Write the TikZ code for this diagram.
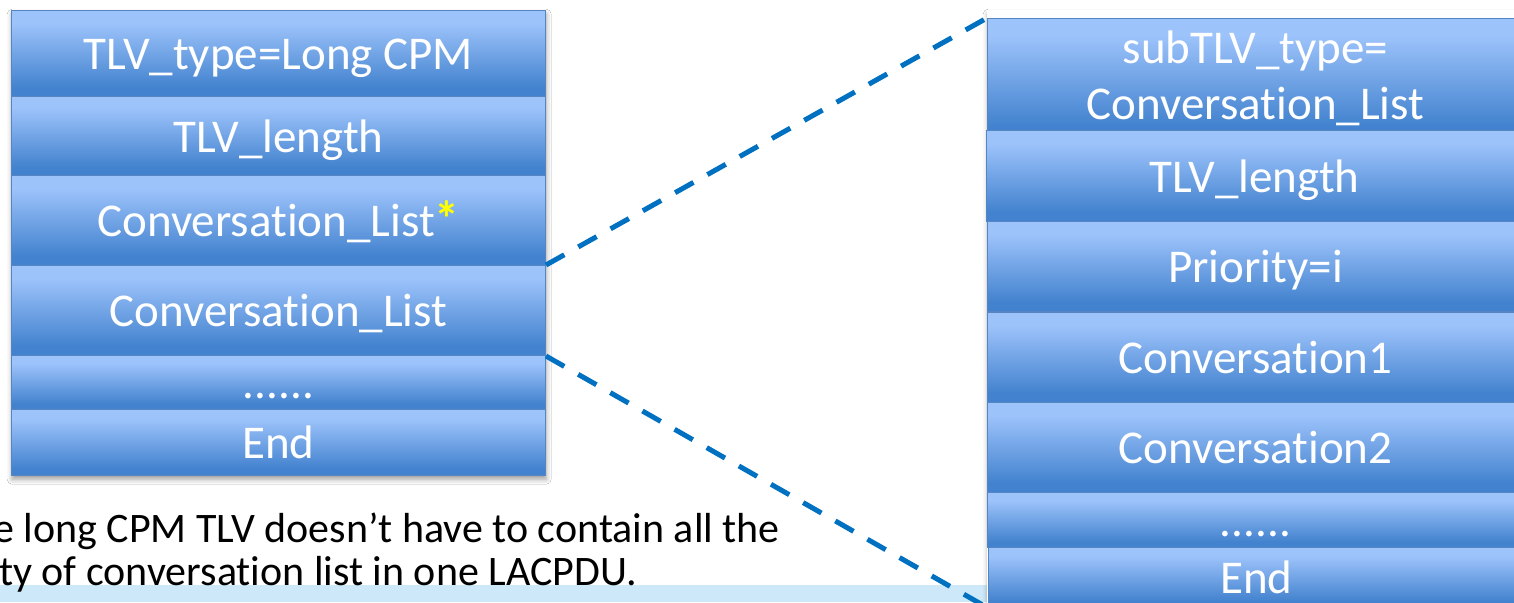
\documentclass[tikz,border=0pt]{standalone}
\usepackage{fontspec}
\setmainfont{Carlito}[RawFeature={-liga;-clig;-calt;-dlig}]
\usetikzlibrary{shadows.blur}
\newcommand\tiSplit{t\kern0pt i}
\definecolor{rowlight}{RGB}{157,195,251}
\definecolor{rowdark}{RGB}{66,130,206}
\definecolor{rowline}{RGB}{86,133,196}
\definecolor{dashblue}{RGB}{0,112,192}
\definecolor{stripblue}{RGB}{205,232,248}
\definecolor{staryellow}{RGB}{255,255,0}
\pgfdeclareverticalshading{rowshade}{100bp}{color(0bp)=(rowdark); color(30bp)=(rowdark); color(68bp)=(rowlight); color(100bp)=(rowlight)}
\begin{document}
\begin{tikzpicture}[x=1pt,y=-1pt,
  rowbox/.style={rectangle, anchor=north west, inner sep=0pt, shading=rowshade,
    draw=rowline, line width=1pt, text=white, font=\fontsize{47}{56}\selectfont,
    text height=32pt, text depth=0pt},
  stackbg/.style={rectangle, anchor=north west, inner sep=0pt, fill=white,
    blur shadow={shadow xshift=1pt, shadow yshift=-4pt, shadow blur radius=5pt, shadow opacity=40}},
  notetext/.style={anchor=base west, inner sep=0pt, text=black, font=\fontsize{42}{45}\selectfont},
  dashline/.style={draw=dashblue, line width=5pt, dash pattern=on 21pt off 16pt}
]
\clip (0,0) rectangle (1514,602);
\fill[white] (0,0) rectangle (1514,602);
% bottom strip
\fill[stripblue] (0,585) rectangle (990,602);
% note text
\node[notetext] (n1) at (-7,542) {e long CPM TLV doesn’t have to contain all the};
\node[notetext] (n2) at (-1,585) {ty of conversa\tiSplit on list in one LACPDU.};
% left stack
\node[stackbg, minimum width=534pt, minimum height=465pt] (lbg) at (11,10) {};
\node[rowbox, minimum width=534pt, minimum height=86pt] (l1) at (11,10) {TLV\_type=Long CPM};
\node[rowbox, minimum width=534pt, minimum height=79pt] (l2) at (11,96) {TLV\_length};
\node[rowbox, minimum width=534pt, minimum height=90pt] (l3) at (11,175) {Conversa\tiSplit on\_List{\color{staryellow}\bfseries\fontsize{50}{56}\selectfont *}};
\node[rowbox, minimum width=534pt, minimum height=90pt] (l4) at (11,265) {Conversa\tiSplit on\_List};
\node[rowbox, minimum width=534pt, minimum height=54pt] (l5) at (11,355) {......};
\node[rowbox, minimum width=534pt, minimum height=66pt] (l6) at (11,409) {End};
% right stack
\node[stackbg, minimum width=536pt, minimum height=600pt] (rbg) at (987,10) {};
\node[rowbox, minimum width=536pt, minimum height=120pt, text height={}, text depth={}, align=center, yshift=-8pt] (r1) at (987,10) {subTLV\_type=\\Conversa\tiSplit on\_List};
\node[rowbox, minimum width=536pt, minimum height=91pt] (r2) at (986,130) {TLV\_length};
\node[rowbox, minimum width=536pt, minimum height=90pt] (r3) at (987,221) {Priority=i};
\node[rowbox, minimum width=536pt, minimum height=90pt] (r4) at (987,312) {Conversa\tiSplit on1};
\node[rowbox, minimum width=536pt, minimum height=90pt] (r5) at (987,402) {Conversa\tiSplit on2};
\node[rowbox, minimum width=536pt, minimum height=55pt] (r6) at (987,492) {......};
\node[rowbox, minimum width=536pt, minimum height=60pt] (r7) at (988,547) {End};
% connectors
\draw[dashline] (l4.north east) -- (r1.north west);
\draw[dashline] (l4.south east) -- (r7.south west);
\end{tikzpicture}
\end{document}
